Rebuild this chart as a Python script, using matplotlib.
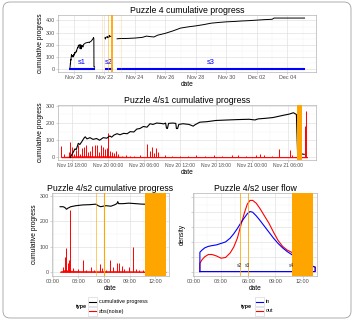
import matplotlib
matplotlib.use("Agg")
import matplotlib.pyplot as plt
import matplotlib.dates as mdates
import matplotlib.ticker as mticker
import pandas as pd
from matplotlib.patches import FancyBboxPatch, Rectangle
from matplotlib.lines import Line2D
from matplotlib.transforms import IdentityTransform

plt.rcParams['font.family'] = ['Liberation Sans', 'DejaVu Sans']

W, H = 357, 320
BLACK = "black"
RED = "#ff0000"
BLUE = "#0000ff"
ORANGE = "#ffa500"
GREY_TXT = "#4d4d4d"

# ---- data ---------------------------------------------------------------
# Puzzle 4 / s1 (hours after Nov 19 18:00)
s1_hours = [-0.3, 0.2, 0.5, 0.7, 1.05, 1.3, 1.6, 2.0, 2.2, 2.5, 3.0, 3.5, 4.1, 4.6,
            5.2, 5.8, 6.3, 6.6, 7.0, 7.5, 8.0, 8.6, 9.2, 9.7, 10.3, 10.8, 11.3,
            11.9, 12.5, 13.0, 13.5, 14.1, 14.8, 15.3, 15.6, 15.75, 15.9, 16.1,
            16.8, 17.3, 17.4, 17.6, 17.8, 18.5, 19.5, 20.2, 20.5, 21.3, 22.5,
            24.0, 26.0, 27.5, 29.5, 30.5, 31.0, 32.4, 33.5, 35.2, 36.2, 36.9,
            37.4, 37.6, 38.3, 38.7]
s1_progress = [0, 30, 50, 45, 82, 75, 90, 112, 120, 108, 115, 105, 110, 100,
               115, 112, 125, 118, 130, 138, 132, 140, 138, 150, 148, 165, 168,
               180, 176, 196, 192, 200, 198, 195, 200, 170, 168, 198,
               200, 198, 168, 168, 192, 196, 192, 182, 190, 205, 208,
               215, 218, 220, 222, 218, 224, 228, 232, 245, 252, 260,
               250, 20, 20, 18]
s1_spike_hours = [-1.8, -1.3, -0.5, -0.33, 0.0, 0.33, 0.67, 1.0, 1.33, 1.67, 2.0,
                  2.33, 2.67, 3.0, 3.33, 3.83, 4.17, 4.5, 4.83, 5.17, 5.5, 5.83,
                  6.0, 6.33, 6.67, 7.0, 7.33, 7.67, 8.33, 9.0, 9.67, 10.33, 11.33,
                  12.5, 13.0, 13.33, 13.67, 14.0, 14.33, 15.5, 16.67, 18.0, 19.33,
                  20.67, 22.17, 23.67, 25.0, 26.67, 27.67, 29.0, 30.67, 31.33, 32.0,
                  33.33, 34.5, 36.33, 36.67, 38.83, 39.0]
s1_spike_noise = [65, 20, 30, 90, 60, 20, 45, 70, 20, 55, 60,
                  75, 30, 40, 65, 75, 70, 30, 70, 60, 50, 55,
                  145, 40, 30, 25, 35, 20, 10, 15, 10, 10, 15,
                  80, 40, 60, 25, 55, 30, 15, 10, 8, 10,
                  15, 10, 12, 10, 15, 12, 10, 15, 20, 12,
                  10, 50, 45, 15, 185, 270]
s1_floor_hours = [-1.8, 0, 2, 4, 6, 8, 10, 14, 20, 26, 32, 37.2, 38.2, 39.2]
s1_floor_noise = [4, 6, 8, 7, 8, 5, 4, 4, 3, 3, 3, 3, 4, 4]

# Puzzle 4 / s2 (hours after Nov 22 00:00)
s2_hours = [0.85, 1.2, 1.4, 1.6, 1.75, 2.1, 2.7, 3.5, 4.3, 5.05, 5.3, 5.6, 6.2,
            6.8, 7.2, 7.5, 7.6, 7.7, 8.2, 8.9, 9.7, 10.5, 10.9]
s2_progress = [258, 258, 255, 248, 252, 258, 262, 265, 266, 268, 262, 258, 262,
               260, 265, 270, 278, 270, 270, 272, 270, 268, 268]
s2_spike_hours = [1.23, 1.47, 1.55, 1.78, 1.9, 2.05, 2.32, 2.9, 3.5, 3.9, 4.46,
                  4.85, 5.55, 5.8, 6.2, 6.7, 7.05, 7.55, 7.75, 8.06, 8.3, 8.9,
                  9.4, 9.7, 10.1, 10.5]
s2_spike_noise = [20, 58, 97, 35, 50, 245, 15, 13, 49, 10, 20,
                  10, 32, 15, 10, 49, 20, 38, 38, 25, 12, 20,
                  100, 12, 8, 10]
s2_floor_hours = [0.85, 1.3, 2.3, 3.3, 5.3, 7.3, 9.3, 11.0, 13.2]
s2_floor_noise = [3, 8, 6, 5, 4, 5, 4, 3, 3]

# Puzzle 4 / s3 (whole puzzle, late part)
s3_time = ["2016-11-22 20:00", "2016-11-23 00:00", "2016-11-23 12:00",
           "2016-11-24 00:00", "2016-11-24 12:00", "2016-11-24 18:00",
           "2016-11-25 00:00", "2016-11-25 06:00", "2016-11-25 12:00",
           "2016-11-26 00:00", "2016-11-26 12:00", "2016-11-27 00:00",
           "2016-11-27 12:00", "2016-11-28 00:00", "2016-11-28 12:00",
           "2016-11-29 00:00", "2016-11-29 12:00", "2016-11-30 00:00",
           "2016-11-30 12:00", "2016-12-01 00:00", "2016-12-01 12:00",
           "2016-12-02 00:00", "2016-12-02 12:00", "2016-12-03 00:00",
           "2016-12-03 03:00", "2016-12-05 03:00"]
s3_progress = [250, 252, 253, 256, 262, 272, 268, 265, 280, 295, 315, 338, 348,
               356, 366, 378, 384, 389, 392, 396, 399, 403, 407, 410, 420, 420]

# sessions (start, end, label)
session_names = ["s1", "s2", "s3"]
session_start = ["2016-11-19 16:30", "2016-11-22 01:00", "2016-11-22 20:00"]
session_end = ["2016-11-21 09:00", "2016-11-22 14:00", "2016-12-05 04:00"]

# user flow densities (hours after Nov 22 00:00)
flow_hours = [0.66, 0.9, 1.2, 1.6, 2.0, 2.5, 3.0, 3.5, 4.0, 4.4, 4.8, 5.2, 5.6,
              5.9, 6.2, 6.5, 6.9, 7.3, 7.8, 8.3, 8.8, 9.3, 9.8, 10.3, 10.8,
              11.5, 12.3, 13.4]
flow_in = [.026, .029, .032, .034, .035, .036, .038, .040, .045, .051, .058, .066,
           .073, .078, .081, .080, .075, .069, .061, .053, .045, .038, .032,
           .027, .023, .016, .010, .006]
flow_out = [.011, .016, .020, .023, .023, .021, .018, .019, .025, .033, .045,
            .063, .080, .091, .096, .096, .092, .085, .075, .065, .053, .042,
            .034, .029, .026, .018, .011, .006]

# events
s2_event_hours = [5.05, 5.95]
s2_event_names = ["s2", "s3"]
s2_band = (10.8, 13.2)
s1_band = (37.5, 38.3)

S1_BASE = pd.Timestamp("2016-11-19 18:00")
S2_BASE = pd.Timestamp("2016-11-22 00:00")


def hours_to_time(base, hours):
    return base + pd.to_timedelta(hours, unit="h")


def add_ax(fig, l, t, r, b):
    return fig.add_axes([l / W, 1 - b / H, (r - l) / W, (b - t) / H])


def style(ax, xsize=3.9):
    ax.set_facecolor("white")
    for s in ax.spines.values():
        s.set_color("#b3b3b3")
        s.set_linewidth(0.5)
    ax.grid(True, which="major", color="#dedede", lw=0.45)
    ax.grid(True, which="minor", color="#eeeeee", lw=0.25)
    ax.set_axisbelow(True)
    ax.tick_params(which="major", length=1.6, width=0.4, color="#b3b3b3",
                   labelsize=3.9, labelcolor=GREY_TXT, pad=0.8)
    ax.tick_params(axis="x", labelsize=xsize)
    ax.tick_params(which="minor", length=0)


def labels(ax, title, ylabel):
    ax.set_title(title, fontsize=6.3, pad=1.0)
    ax.set_xlabel("date", fontsize=4.8, labelpad=0.5)
    ax.set_ylabel(ylabel, fontsize=4.8, labelpad=1.0)


fig = plt.figure(figsize=(W / 100, H / 100), dpi=100)

# ---- panel 1: Puzzle 4 cumulative progress -----------------------------
ax1 = add_ax(fig, 58, 15, 316, 72)
style(ax1)
s1_t = hours_to_time(S1_BASE, s1_hours)
s2_t = hours_to_time(S2_BASE, s2_hours)
s3_t = pd.to_datetime(s3_time)
for t, v in ((s1_t, s1_progress), (s2_t, s2_progress), (s3_t, s3_progress)):
    ax1.plot(t, v, color=BLACK, lw=0.7, zorder=3)
for name, a, b in zip(session_names, session_start, session_end):
    a, b = pd.Timestamp(a), pd.Timestamp(b)
    ax1.plot([a, b], [0, 0], color=BLUE, lw=1.5, solid_capstyle="butt", zorder=4)
    ax1.text(a + (b - a) / 2, 52, name, color=BLUE, fontsize=5.4,
             ha="center", va="center", zorder=5)
ax1.axvspan(hours_to_time(S1_BASE, s1_band[0]), hours_to_time(S1_BASE, s1_band[1]),
            color=ORANGE, alpha=0.55, lw=0, zorder=5)
ax1.axvspan(hours_to_time(S2_BASE, s2_band[0]), hours_to_time(S2_BASE, s2_band[1]),
            color=ORANGE, alpha=0.9, lw=0, zorder=5)
ax1.axvline(pd.Timestamp("2016-11-21 20:00"), color=ORANGE, lw=0.5, alpha=0.3, zorder=5)
ax1.axvline(pd.Timestamp("2016-11-23 02:00"), color=ORANGE, lw=0.5, alpha=0.3, zorder=5)
for h in s2_event_hours:
    ax1.axvline(hours_to_time(S2_BASE, h), color=ORANGE, lw=0.5, alpha=0.4, zorder=5)
ax1.set_xlim(pd.Timestamp("2016-11-18 23:00"), pd.Timestamp("2016-12-05 21:00"))
ax1.set_ylim(-22, 445)
ax1.xaxis.set_major_locator(mdates.DayLocator(bymonthday=range(2, 32, 2)))
ax1.xaxis.set_minor_locator(mdates.DayLocator(bymonthday=range(1, 32, 2)))
ax1.xaxis.set_major_formatter(mdates.DateFormatter("%b %d"))
ax1.yaxis.set_major_locator(mticker.MultipleLocator(100))
ax1.yaxis.set_minor_locator(mticker.MultipleLocator(50))
labels(ax1, "Puzzle 4 cumulative progress", "cumulative progress")

# ---- panel 2: Puzzle 4/s1 cumulative progress --------------------------
ax2 = add_ax(fig, 58, 105, 316, 160)
style(ax2, xsize=3.6)
ax2.fill_between(hours_to_time(S1_BASE, s1_floor_hours), 0, s1_floor_noise,
                 color=RED, lw=0.4, zorder=2)
ax2.vlines(hours_to_time(S1_BASE, s1_spike_hours), 0, s1_spike_noise,
           color=RED, lw=0.7, zorder=2)
ax2.plot(s1_t, s1_progress, color=BLACK, lw=0.8, zorder=3)
ax2.axvspan(hours_to_time(S1_BASE, s1_band[0]), hours_to_time(S1_BASE, s1_band[1]),
            color=ORANGE, lw=0, zorder=4)
ax2.set_xlim(pd.Timestamp("2016-11-19 15:40"), pd.Timestamp("2016-11-21 10:40"))
ax2.set_ylim(-15, 305)
ax2.xaxis.set_major_locator(mdates.HourLocator(byhour=[0, 6, 12, 18]))
ax2.xaxis.set_minor_locator(mdates.HourLocator(byhour=[3, 9, 15, 21]))
ax2.xaxis.set_major_formatter(mdates.DateFormatter("%b %d %H:%M"))
ax2.yaxis.set_major_locator(mticker.MultipleLocator(100))
ax2.yaxis.set_minor_locator(mticker.MultipleLocator(50))
labels(ax2, "Puzzle 4/s1 cumulative progress", "cumulative progress")


def hour_axis(ax):
    ax.set_xlim(-0.1, 13.6)
    ax.xaxis.set_major_locator(mticker.MultipleLocator(3))
    ax.xaxis.set_minor_locator(mticker.MultipleLocator(1.5))
    ax.xaxis.set_major_formatter(mticker.FuncFormatter(lambda v, p: f"{int(v):02d}:00"))


# ---- panel 3: Puzzle 4/s2 cumulative progress --------------------------
ax3 = add_ax(fig, 52, 193, 169, 276)
style(ax3)
ax3.fill_between(s2_floor_hours, 0, s2_floor_noise, color=RED, lw=0.4, zorder=2)
ax3.vlines(s2_spike_hours, 0, s2_spike_noise, color=RED, lw=0.7, zorder=2)
ax3.plot(s2_hours, s2_progress, color=BLACK, lw=0.8, zorder=3)
ax3.axvline(s2_event_hours[0], color=ORANGE, lw=0.6, alpha=0.7, zorder=4)
ax3.axvline(s2_event_hours[1], color=ORANGE, lw=0.8, zorder=4)
ax3.axvspan(*s2_band, color=ORANGE, lw=0, zorder=4)
hour_axis(ax3)
ax3.set_ylim(-15, 312)
ax3.yaxis.set_major_locator(mticker.MultipleLocator(100))
ax3.yaxis.set_minor_locator(mticker.MultipleLocator(50))
labels(ax3, "Puzzle 4/s2 cumulative progress", "cumulative progress")

# ---- panel 4: Puzzle 4/s2 user flow ------------------------------------
ax4 = add_ax(fig, 193, 193, 317, 276)
style(ax4)
for vals, col in ((flow_out, RED), (flow_in, BLUE)):
    xs = [flow_hours[0]] + flow_hours + [flow_hours[-1], flow_hours[0]]
    ys = [0] + vals + [0, 0]
    ax4.plot(xs, ys, color=col, lw=0.8, zorder=3)
for h, name in zip(s2_event_hours, s2_event_names):
    ax4.axvline(h, color=ORANGE, lw=0.7, alpha=0.8, zorder=4)
    ax4.text(h - 0.05, 0.008, name, fontsize=3.5, color="#333333",
             ha="center", va="center", zorder=6)
ax4.axvspan(*s2_band, color=ORANGE, lw=0, zorder=4)
ax4.text(s2_band[0] - 0.05, 0.008, "s4", fontsize=3.5, color="#333333",
         ha="center", va="center", zorder=6)
hour_axis(ax4)
ax4.set_ylim(-0.006, 0.106)
ax4.yaxis.set_major_locator(mticker.MultipleLocator(0.02))
ax4.yaxis.set_minor_locator(mticker.MultipleLocator(0.01))
ax4.set_yticklabels([])
ax4.set_title("Puzzle 4/s2 user flow", fontsize=6.3, pad=1.0)
ax4.set_xlabel("date", fontsize=4.8, labelpad=0.5)
ax4.set_ylabel("density", fontsize=4.8, labelpad=2.0)


# ---- legends ------------------------------------------------------------
def legend(x_title, x_key, entries):
    fig.text(x_title / W, 1 - 306.5 / H, "type", fontsize=3.9, weight="bold",
             ha="center", va="center")
    for i, (lab, col) in enumerate(entries):
        yc = 301.5 + 9.5 * i
        fig.add_artist(Rectangle((x_key / W, 1 - (yc + 4.5) / H), 9 / W, 9 / H,
                                 transform=fig.transFigure, facecolor="white",
                                 edgecolor="#d0d0d0", lw=0.4))
        fig.add_artist(Line2D([(x_key + 1) / W, (x_key + 8) / W],
                              [1 - yc / H, 1 - yc / H],
                              transform=fig.transFigure, color=col, lw=0.8))
        fig.text((x_key + 11) / W, 1 - yc / H, lab, fontsize=3.9,
                 ha="left", va="center")


legend(81, 88, [("cumulative progress", BLACK), ("abs(noise)", RED)])
legend(246, 255, [("in", BLUE), ("out", RED)])

# ---- rounded frame ------------------------------------------------------
fig.add_artist(FancyBboxPatch((3, 2), 348, 316, boxstyle="round,pad=0,rounding_size=7",
                              transform=IdentityTransform(), facecolor="none",
                              edgecolor="#a0a0a0", lw=0.6))

fig.savefig("out.png", dpi=100)
